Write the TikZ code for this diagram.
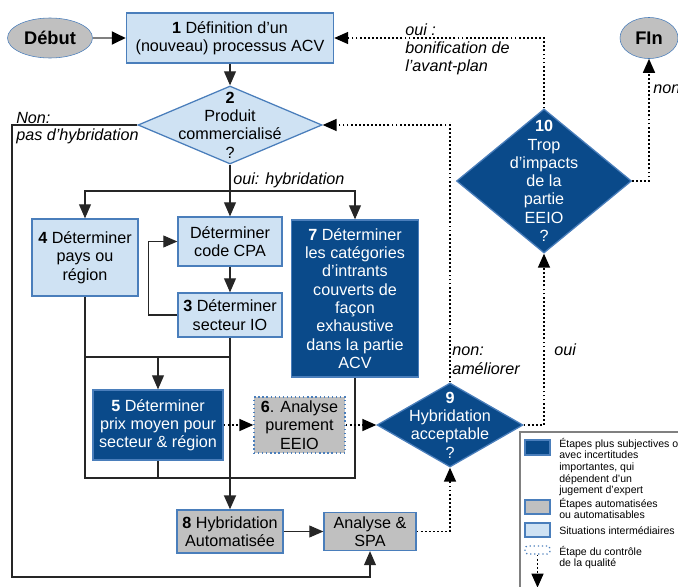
\documentclass[tikz,border=0pt]{standalone}
\usepackage{fontspec}
\setmainfont{Liberation Sans}
\usepackage{xcolor}
\usetikzlibrary{shapes.geometric, arrows.meta, positioning}

\definecolor{paleblue}{HTML}{CFE2F3}
\definecolor{edgeblue}{HTML}{4A7EBB}
\definecolor{deepblue}{HTML}{0A4A8A}
\definecolor{stepgray}{HTML}{C0C0C0}

\begin{document}
\begin{tikzpicture}[x=0.025cm, y=-0.025cm, font=\fontsize{11.5}{13}\selectfont]
            %Block styles
            \tikzstyle{interm} = [draw=edgeblue, fill=paleblue, line width=0.9pt, rectangle, align=center, inner sep=1pt]
            \tikzstyle{subj} = [draw=edgeblue, fill=deepblue, text=white, line width=0.9pt, rectangle, align=center, inner sep=1pt]
            \tikzstyle{autom} = [draw=edgeblue, fill=stepgray, line width=0.9pt, rectangle, align=center, inner sep=1pt]
            \tikzstyle{terminal} = [draw=edgeblue, fill=stepgray, ellipse, inner sep=0pt, font=\fontsize{13}{15}\selectfont\bfseries]
            \tikzstyle{decision} = [draw=edgeblue, diamond, line width=0.9pt, inner sep=0pt]
            \tikzstyle{dectext} = [align=center, inner sep=0pt]
            \tikzstyle{note} = [font=\fontsize{11.5}{13}\selectfont\itshape, align=left, inner sep=0pt]
            \tikzstyle{keytext} = [font=\fontsize{7.5}{8.2}\selectfont, align=left, inner sep=0pt, anchor=north west]
            \tikzstyle{link} = [-{Triangle[length=10pt, width=8.5pt]}, line width=0.8pt, draw=black!85]
            \tikzstyle{wire} = [line width=0.8pt, draw=black!85]
            \tikzstyle{qual} = [-{Triangle[length=10pt, width=8.5pt]}, line width=1.3pt, dash pattern=on 1.3pt off 1.6pt]

            \useasboundingbox (0,0) rectangle (678,586);

            %Nodes
            \node[terminal, minimum width=2.125cm, minimum height=1cm] (debut) at (50,38) {Début};
            \node[terminal, minimum width=1.45cm, minimum height=1.025cm] (fin) at (649,38) {FIn};
            \node[interm, minimum width=5.175cm, minimum height=1.25cm] (box1) at (230,38) {\textbf{1} Définition d'un\\(nouveau) processus ACV};
            \node[decision, fill=paleblue, minimum width=4.6cm, minimum height=1.95cm, label={[dectext]center:{\textbf{2}\\Produit\\commercialisé\\?}}] (dec2) at (230,125) {};
            \node[interm, minimum width=2.65cm, minimum height=1.925cm] (box4) at (85,257.5) {\textbf{4} Déterminer\\pays ou\\région};
            \node[interm, minimum width=2.6cm, minimum height=1.225cm] (cpa) at (230,241.5) {Déterminer\\code CPA};
            \node[interm, minimum width=2.6cm, minimum height=1.1cm] (box3) at (230,315) {\textbf{3} Déterminer\\secteur IO};
            \node[subj, minimum width=3.175cm, minimum height=3.925cm] (box7) at (355,298.5) {\textbf{7} Déterminer\\les catégories\\d'intrants\\couverts de\\façon\\exhaustive\\dans la partie\\ACV};
            \node[subj, minimum width=3.25cm, minimum height=1.75cm] (box5) at (158,425) {\textbf{5} Déterminer\\prix moyen pour\\secteur \& région};
            \node[autom, dotted, minimum width=2.275cm, minimum height=1.4cm] (box6) at (299.5,425) {\textbf{6}. Analyse\\purement\\EEIO};
            \node[decision, fill=deepblue, minimum width=3.65cm, minimum height=2.1cm, label={[dectext, text=white]center:{\textbf{9}\\Hybridation\\acceptable\\?}}] (dec9) at (450,425) {};
            \node[decision, fill=deepblue, minimum width=4.375cm, minimum height=3.6cm, label={[dectext, text=white]center:{\textbf{10}\\Trop\\d'impacts\\de la\\partie\\EEIO\\?}}] (dec10) at (544,181) {};
            \node[autom, minimum width=2.65cm, minimum height=1.075cm] (box8) at (230,531.5) {\textbf{8} Hybridation\\Automatisée};
            \node[autom, minimum width=2.3cm, minimum height=0.95cm] (spa) at (370,531.5) {Analyse \&\\SPA};

            \coordinate (fork) at (230,191);
            \coordinate (rail) at (12,577);
            \coordinate (join) at (85,357);
            \coordinate (sink) at (85,478);

            %Connections
            \draw[link, draw=gray, line width=2pt, -{Triangle[length=10pt, width=9pt, color=black]}] (debut) -- (box1);
            \draw[link] (box1) -- (dec2);
            \draw[link] (dec2.west) -| (rail) -| (spa.south);
            \draw[wire] (dec2.south) -- (fork);
            \draw[link] (fork) -| (box4.north);
            \draw[link] (fork) -- (cpa.north);
            \draw[link] (fork) -| (box7.north);
            \draw[link] (cpa) -- (box3);
            \draw[link] (box3.west) -- ++(-29,0) |- (cpa.west);
            \draw[wire] (box4.south) -- (sink) -| (box7.south);
            \draw[wire] (join) -- (join -| box3.south);
            \draw[link] (join -| box5.north) -- (box5.north);
            \draw[wire] (box5.south) -- (box5.south |- sink);
            \draw[link, line width=1.4pt] (box3.south) -- (box8.north);
            \draw[link] (box8) -- (spa);
            \draw[qual] (box5) -- (box6);
            \draw[qual] (box6) -- (dec9);
            \draw[qual] (spa.east) -| (dec9.south);
            \draw[qual] (dec9.north) |- (dec2.east);
            \draw[qual] (dec9.east) -| (dec10.south);
            \draw[qual] (dec10.north) |- (box1.east);
            \draw[qual] (dec10.east) -| (fin.south);

            %Labels
            \node[note, anchor=base west] (nonlbl) at (16,123) {Non:};
            \node[note, anchor=base west] (paslbl) at (16,140) {pas d'hybridation};
            \node[note, anchor=base west] (ouilbl) at (233,184) {oui: hybridation};
            \node[note, anchor=north west] (bonilbl) at (405,23) {oui :\\bonification de\\l'avant-plan};
            \node[note, anchor=base west] (finlbl) at (653,93) {non};
            \node[note, anchor=north west] (amelbl) at (452,347) {non:\\améliorer};
            \node[note, anchor=base west] (okl) at (554,355) {oui};

            %Legend
            \draw[gray, line width=1.5pt] (520,432) rectangle (700,600);
            \node[subj, minimum width=0.625cm, minimum height=0.375cm] (keysubj) at (537.5,447.5) {};
            \node[autom, minimum width=0.625cm, minimum height=0.35cm] (keyauto) at (537.5,507) {};
            \node[interm, minimum width=0.625cm, minimum height=0.35cm] (keyinterm) at (537.5,530) {};
            \node[draw=edgeblue, dotted, rounded corners=2pt, line width=0.9pt, minimum width=0.625cm, minimum height=0.2cm, inner sep=0pt] (keyqual) at (537.5,550) {};
            \draw[qual] (keyqual.south) -- ++(0,33);
            \node[keytext] (txtsubj) at (559,438) {Étapes plus subjectives ou\\avec incertitudes\\ importantes, qui\\dépendent d'un\\jugement d'expert};
            \node[keytext] (txtauto) at (559,498) {Étapes automatisées\\ou automatisables};
            \node[keytext, anchor=west] (txtinterm) at (559,531) {Situations intermédiaires};
            \node[keytext] (txtqual) at (559,546) {Étape du contrôle\\de la qualité};
        \end{tikzpicture}
\end{document}
